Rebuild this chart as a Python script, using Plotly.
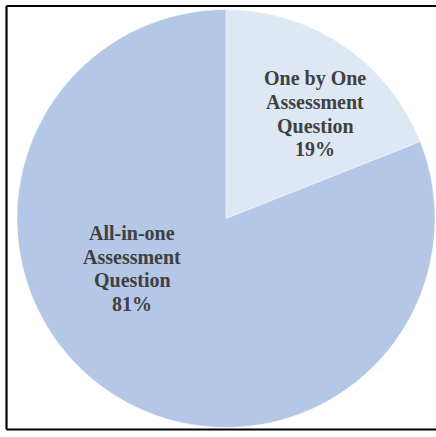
import plotly.graph_objects as go

labels = ["One by One<br>Assessment<br>Question", "All-in-one<br>Assessment<br>Question"]
values = [19, 81]
colors = ["#DDE8F4", "#B4C7E6"]

W, H = 436, 437

fig = go.Figure()
fig.add_trace(go.Pie(
    labels=labels,
    values=values,
    sort=False,
    direction="clockwise",
    rotation=0,
    textinfo="none",
    hoverinfo="label+percent",
    marker=dict(colors=colors, line=dict(color="#FFFFFF", width=0.5)),
    domain=dict(x=[17 / W, 435 / W], y=[9 / H, 428 / H]),
    showlegend=False,
))

# label blocks: pixel centre of each block, one annotation per text line
label_pos = [(315, 114), (132, 268.5)]
line_gap = 23.5
total = sum(values)
for lab, v, (px, py) in zip(labels, values, label_pos):
    lines = lab.split("<br>") + [f"{round(100 * v / total)}%"]
    n = len(lines)
    for i, ln in enumerate(lines):
        yy = py + (i - (n - 1) / 2) * line_gap
        fig.add_annotation(
            x=px / W, y=1 - yy / H, xref="paper", yref="paper",
            xanchor="center", yanchor="middle",
            text=f"<b>{ln}</b>",
            showarrow=False, align="center",
            font=dict(family="Liberation Serif", size=20, color="#404040"),
        )

# outer frame (left, top, bottom; right side lies outside the image)
frame = dict(color="#000000", width=2.2)
x_left, y_top, y_bot = 6.5 / W, 1 - 6 / H, 1 - 429.5 / H
fig.add_shape(type="line", xref="paper", yref="paper", x0=x_left, x1=x_left, y0=y_bot, y1=y_top, line=frame, layer="above")
fig.add_shape(type="line", xref="paper", yref="paper", x0=x_left, x1=1.0, y0=y_top, y1=y_top, line=frame, layer="above")
fig.add_shape(type="line", xref="paper", yref="paper", x0=x_left, x1=1.0, y0=y_bot, y1=y_bot, line=frame, layer="above")

fig.update_layout(
    width=W, height=H,
    margin=dict(l=0, r=0, t=0, b=0),
    paper_bgcolor="#FFFFFF",
    plot_bgcolor="#FFFFFF",
)

fig.write_html(
    "out.html",
    config={"displayModeBar": False},
    post_script="document.body.style.margin='0';document.body.style.overflow='hidden';",
)
